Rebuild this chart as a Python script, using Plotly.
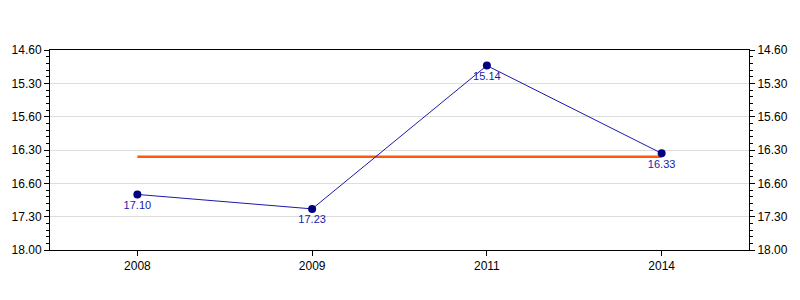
import plotly.graph_objects as go

years = ["2008", "2009", "2011", "2014"]
# times as minutes.seconds labels
time_labels = ["17.10", "17.23", "15.14", "16.33"]
# same values converted to decimal minutes
time_values = [17 + 10/60, 17 + 23/60, 15 + 14/60, 16 + 33/60]
reference_value = 16.6
tick_values = [15.0, 15.5, 16.0, 16.5, 17.0, 17.5, 18.0]
tick_labels = ["14.60", "15.30", "15.60", "16.30", "16.60", "17.30", "18.00"]

fig = go.Figure()
fig.add_trace(go.Scatter(
    x=years, y=time_values, yaxis="y2", mode="markers",
    marker=dict(opacity=0), hoverinfo="skip", showlegend=False))
fig.add_trace(go.Scatter(
    x=[years[0], years[-1]], y=[reference_value, reference_value],
    mode="lines", line=dict(color="#FF5A0A", width=2.5),
    hoverinfo="skip", showlegend=False))
fig.add_trace(go.Scatter(
    x=years, y=time_values, mode="lines+markers+text",
    line=dict(color="#1A1AAA", width=1),
    marker=dict(color="#000080", size=8),
    text=time_labels, textposition="bottom center",
    textfont=dict(color="#1A1AAA", size=11, family="Liberation Sans, Arial"),
    showlegend=False))

yax = dict(
    range=[18.0, 15.0], tickmode="array", tickvals=tick_values, ticktext=tick_labels,
    ticks="outside", ticklen=5, tickcolor="black", showline=True, linecolor="black",
    linewidth=1, showgrid=True, gridcolor="#dddddd", zeroline=False,
    tickfont=dict(size=12, color="black", family="Liberation Sans, Arial"),
    minor=dict(tickmode="linear", tick0=15.0, dtick=0.1, ticks="outside", ticklen=3,
               tickcolor="black", showgrid=False),
)
fig.update_layout(
    width=800, height=300,
    margin=dict(l=49, r=48, t=50, b=50),
    plot_bgcolor="white", paper_bgcolor="white",
    xaxis=dict(type="category", categoryorder="array", categoryarray=years,
               range=[-0.5, 3.5], ticks="outside", ticklen=5,
               tickcolor="black", showline=True, linecolor="black", mirror=True,
               showgrid=False,
               tickfont=dict(size=12, color="black", family="Liberation Sans, Arial")),
    yaxis=yax,
    yaxis2=dict(yax, overlaying="y", side="right", showgrid=False),
)
fig.write_html("out.html")
